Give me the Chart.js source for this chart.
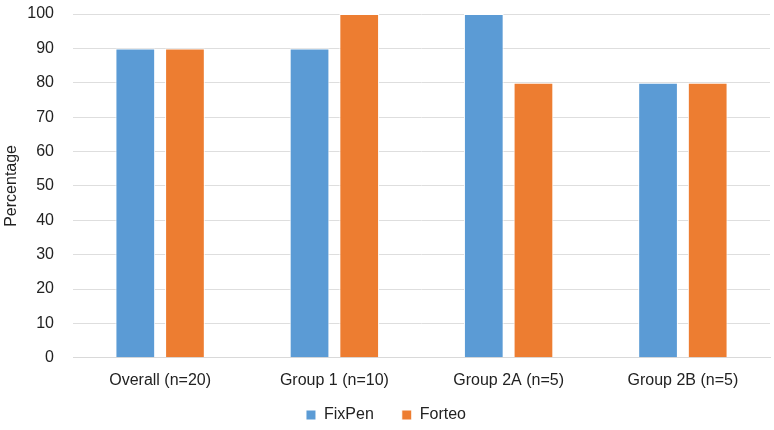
<!DOCTYPE html>
<html>
<head>
<meta charset="utf-8">
<script src="https://cdn.jsdelivr.net/npm/chart.js@4/dist/chart.umd.min.js"></script>
<style>
  html, body { margin: 0; padding: 0; background: #fff; }
  #wrap { width: 774px; height: 430px; }
</style>
</head>
<body>
<div id="wrap"><canvas id="chart"></canvas></div>
<script>
// Datos
const categories = ['Overall (n=20)', 'Group 1 (n=10)', 'Group 2A (n=5)', 'Group 2B (n=5)'];
const fixPen = [90, 90, 100, 80];
const forteo = [90, 100, 80, 80];
const yTicks = [0, 10, 20, 30, 40, 50, 60, 70, 80, 90, 100];

const font = { family: '"Liberation Sans", Arial, sans-serif', size: 16 };

// Leyenda: altura fija en el layout y caja ampliada hacia arriba tras el layout,
// para poder usar una separación horizontal amplia entre items
const legendFit = {
    id: 'legendFit',
    beforeInit(chart) {
        const legend = chart.legend;
        if (legend) {
            const origFit = legend.fit;
            legend.fit = function () {
                origFit.call(this);
                this.height = 27;
            };
        }
    },
    afterLayout(chart) {
        if (chart.legend) {
            chart.legend.top -= 24;
        }
    }
};

new Chart(document.getElementById('chart'), {
    type: 'bar',
    data: {
        labels: categories,
        datasets: [
            {
                label: 'FixPen',
                data: fixPen,
                backgroundColor: '#5b9bd5',
                borderColor: '#ffffff',
                borderWidth: 1,
                categoryPercentage: 0.57,
                barPercentage: 0.8
            },
            {
                label: 'Forteo',
                data: forteo,
                backgroundColor: '#ed7d31',
                borderColor: '#ffffff',
                borderWidth: 1,
                categoryPercentage: 0.57,
                barPercentage: 0.8
            }
        ]
    },
    options: {
        responsive: true,
        maintainAspectRatio: false,
        animation: false,
        layout: { padding: { top: 0, right: 4, left: 2, bottom: 0 } },
        plugins: {
            legend: {
                position: 'bottom',
                labels: {
                    color: '#222',
                    font: font,
                    boxWidth: 10,
                    boxHeight: 10,
                    padding: 28
                }
            },
            tooltip: { enabled: false }
        },
        scales: {
            x: {
                grid: { display: false, drawTicks: false },
                border: { color: '#d9d9d9' },
                ticks: { color: '#222', font: font, padding: 13, maxRotation: 0 }
            },
            y: {
                min: 0,
                max: 100,
                afterBuildTicks: (axis) => { axis.ticks = yTicks.map(v => ({ value: v })); },
                grid: { color: '#dedede', drawTicks: false },
                border: { display: false },
                ticks: { color: '#222', font: font, padding: 19 },
                title: {
                    display: true,
                    text: 'Percentage',
                    color: '#222',
                    font: font,
                    padding: { top: 0, bottom: 0 }
                },
                afterFit: (s) => {
                    s.width = 71;
                    s.paddingTop = 14;
                    s.paddingBottom = 0;
                }
            }
        }
    },
    plugins: [legendFit]
});
</script>
</body>
</html>
